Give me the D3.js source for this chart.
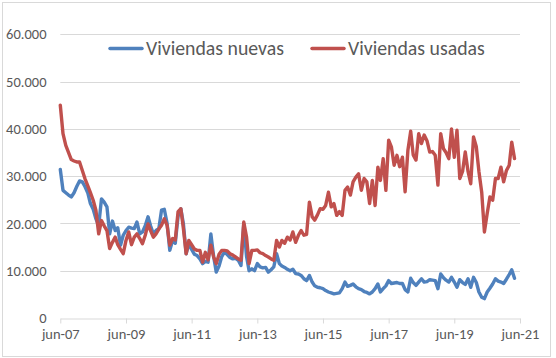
<!DOCTYPE html>
<html><head><meta charset="utf-8">
<script src="https://cdn.jsdelivr.net/npm/d3@7"></script>
<style>
html,body{margin:0;padding:0;background:#fff;}
svg{display:block;font-family:Carlito, Calibri, Lato, sans-serif;}
</style></head>
<body><svg id="c" width="556" height="358"></svg>
<script>
// Monthly series, jun-07 .. apr-21
const startMonth = [2007, 5];
const nuevas = [
31400,27000,26500,26000,25600,26500,27800,29000,28800,27800,
26500,24200,23000,21000,19500,25200,24500,23500,17800,20500,
18500,19100,15400,17500,18500,19200,19000,18900,20300,17800,
18200,19500,21400,19500,17800,18500,18900,22800,23000,20000,
14300,16400,15800,21500,23100,20000,13600,15700,14500,13500,
13200,12500,11500,12000,11800,17800,
13000,9700,11000,
13000,14000,13400,12800,12500,12600,12200,11100,19900,13000,
10000,10400,10000,11500,10800,10600,10700,9700,10200,10800,
13600,11500,11000,10700,10300,10000,10300,9400,9300,9000,
8300,7900,9000,7600,6800,6500,6400,6200,5800,5500,
5300,5100,5200,5300,6200,7600,6700,6900,7200,6600,
6200,6000,5600,5400,5100,5500,6200,7200,5500,6200,
6800,7900,7300,7400,7500,7300,7300,6000,5500,8400,
7500,6900,
7600,8300,7600,7700,8100,8000,7900,
6200,9300,8500,8000,7600,8600,7600,6500,8100,7500,
7100,8300,6500,8600,7500,5500,4400,4100,5500,6300,
7200,8300,7800,7600,7300,8200,9200,10200,8400
];
const usadas = [
45000,39000,36500,35000,33500,33200,33000,33000,31200,29500,
28000,26500,24900,22800,17800,20600,19500,18500,14700,16000,
17100,15500,14500,13600,16400,18200,15500,17100,17800,16800,
15700,17500,19900,18500,17100,17800,18800,19600,21000,19600,
15400,16800,16500,22500,23100,19000,13600,16400,15500,14600,
14300,14300,11800,13900,12300,15400,
12900,11500,13500,
14300,14300,14200,13600,13300,12900,12500,12200,20300,17100,
11500,14300,14300,14400,13800,13600,13200,12900,12500,12200,
16400,15000,16400,15800,17100,16500,18200,16000,17500,18500,
17500,17700,24500,21400,20700,21800,23100,23000,23800,26600,
23500,24200,21700,22500,21700,27000,27700,26000,28800,29800,
30500,27000,29500,28800,24200,29100,23800,31900,29100,33700,
27000,37600,36200,32300,34400,32000,34000,26700,35500,39500,
34500,33400,
39000,36900,38700,37500,35100,35200,34400,
28100,39000,35800,35000,33700,40000,34000,39700,29500,31000,
35100,31000,28400,38300,36200,31000,26600,18200,22100,25600,
24900,29500,29500,31900,28800,31200,32300,37200,33700
];
const seriesNames = ["Viviendas nuevas", "Viviendas usadas"];
const colors = ["#4F81BD", "#C0504D"];
const yTicks = [0,10000,20000,30000,40000,50000,60000];
const yTickLabels = ["0","10.000","20.000","30.000","40.000","50.000","60.000"];
const xTickYears = [2007,2009,2011,2013,2015,2017,2019,2021];
const xTickLabels = ["jun-07","jun-09","jun-11","jun-13","jun-15","jun-17","jun-19","jun-21"];

const svg = d3.select("#c");
const L = 60.3, R = 520, T = 34.3, B = 318;
const x = d3.scaleTime().domain([new Date(2007,5,1), new Date(2021,5,1)]).range([L, R]);
const y = d3.scaleLinear().domain([0, 60000]).range([B, T]);
const dates = d3.range(nuevas.length).map(i => new Date(startMonth[0], startMonth[1] + i, 1));

// border
svg.append("rect").attr("x",2.5).attr("y",2.5).attr("width",548).attr("height",354)
  .attr("fill","#fff").attr("stroke","#d9d9d9").attr("stroke-width",1);

// gridlines
svg.append("g").selectAll("line").data(yTicks.slice(1)).join("line")
  .attr("x1",L).attr("x2",R).attr("y1",d=>Math.round(y(d))+0.5).attr("y2",d=>Math.round(y(d))+0.5)
  .attr("stroke","#d9d9d9").attr("stroke-width",1);

// y labels
svg.append("g").selectAll("text").data(yTicks).join("text")
  .attr("x",46.5).attr("y",d=>y(d)).attr("dy","0.35em").attr("text-anchor","end")
  .attr("font-size",14.5).attr("fill","#595959")
  .text((d,i)=>yTickLabels[i]);

// x axis
const xAxis = d3.axisBottom(x)
  .tickValues(xTickYears.map(yv => new Date(yv,5,1)))
  .tickFormat((d,i)=>xTickLabels[i]).tickSize(5).tickSizeOuter(0).tickPadding(5);
const gx = svg.append("g").attr("transform",`translate(0,${Math.round(B)+0.5})`).call(xAxis);
gx.select(".domain").attr("stroke","#d9d9d9");
gx.selectAll(".tick line").attr("stroke","#d9d9d9");
gx.selectAll("text").attr("font-size",14.5).attr("fill","#595959").attr("font-family","Carlito, Calibri, Lato, sans-serif");

// lines
const line = d3.line().x((d,i)=>x(dates[i])).y(d=>y(d));
[nuevas, usadas].forEach((s,k)=>{
  svg.append("path").datum(s).attr("d", line).attr("fill","none")
    .attr("stroke",colors[k]).attr("stroke-width",3.4)
    .attr("stroke-linejoin","round").attr("stroke-linecap","round");
});

// legend
const legX = [110, 312];
seriesNames.forEach((n,k)=>{
  svg.append("line").attr("x1",legX[k]).attr("x2",legX[k]+32).attr("y1",48.5).attr("y2",48.5)
    .attr("stroke",colors[k]).attr("stroke-width",3.5).attr("stroke-linecap","round");
  svg.append("text").attr("x",legX[k]+36).attr("y",55).attr("font-size",19.8)
    .attr("fill","#595959").text(n);
});
</script></body></html>
